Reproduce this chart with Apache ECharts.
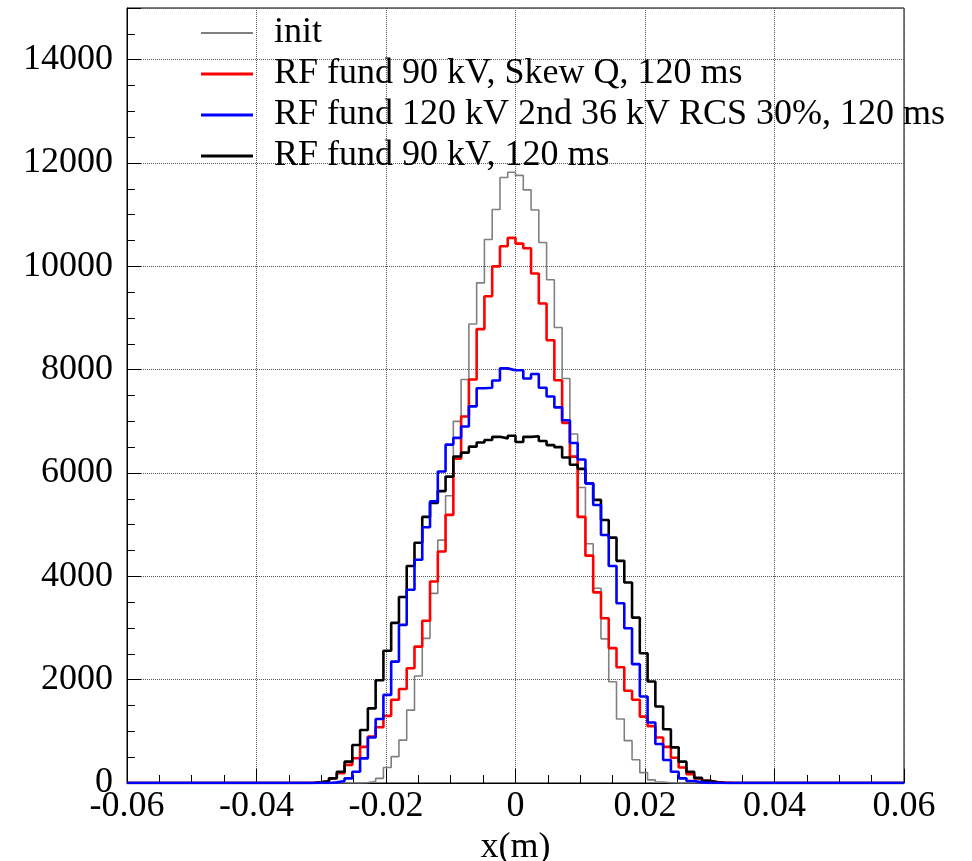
<!DOCTYPE html>
<html>
<head>
<meta charset="utf-8">
<script src="https://cdn.jsdelivr.net/npm/echarts@6/dist/echarts.min.js"></script>
<style>
html,body{margin:0;padding:0;background:#fff;}
#chart{width:972px;height:861px;}
</style>
</head>
<body>
<div id="chart"></div>
<script>
// Histogram: 100 bins from -0.06 to 0.06 (bin width 0.0012).
// Values below are for the 60 bins starting at x = -0.036 (bins outside are empty).
const xMin = -0.06, xMax = 0.06, binWidth = 0.0012, nBins = 100;
const dataStartBin = 20; // bin index of x = -0.036

const seriesNames = [
  'init',
  'RF fund 90 kV, Skew Q, 120 ms',
  'RF fund 120 kV 2nd 36 kV RCS 30%, 120 ms',
  'RF fund 90 kV, 120 ms'
];

const initCounts = [
  0,0,0,0,0,0,0,0,0,0,
  8,30,90,300,510,830,1410,2070,2800,3670,
  4700,5560,7000,7810,8885,9680,10520,11100,11720,11820,
  11760,11480,11090,10460,9740,8815,7830,6755,5720,4630,
  3770,2790,1960,1240,820,450,200,60,20,5,
  0,0,0,0,0,0,0,0,0,0
];
const skewQCounts = [
  0,0,0,5,13,40,90,190,350,480,
  700,900,1080,1300,1610,1820,2220,2640,3140,3900,
  4480,5190,6278,7095,7811,8785,9420,10000,10390,10550,
  10440,10350,9860,9280,8570,7795,6970,6317,5150,4400,
  3690,3190,2610,2240,1785,1610,1285,1100,880,700,
  490,300,170,90,45,20,8,0,0,0
];
const rcsCounts = [
  0,0,0,0,0,0,12,39,90,219,
  477,880,1240,1705,2350,3060,3740,4320,4950,5450,
  6030,6550,6680,6900,7290,7640,7650,7790,8025,7990,
  7990,7830,7915,7650,7480,7270,7020,6580,6260,5800,
  5380,4800,4200,3480,2995,2300,1675,1170,755,445,
  219,90,40,12,0,0,0,0,0,0
];
const fundCounts = [
  0,0,0,0,12,39,90,219,413,735,
  1025,1444,1990,2560,3100,3600,4200,4650,5150,5420,
  5650,5930,6320,6395,6510,6590,6640,6700,6670,6720,
  6600,6700,6710,6620,6540,6500,6300,6160,6080,5800,
  5480,5090,4750,4300,3880,3200,2510,1965,1480,1040,
  690,413,219,100,45,15,0,0,0,0
];

const xTicks = [-0.06, -0.04, -0.02, 0, 0.02, 0.04, 0.06];

function toSteps(counts) {
  const pts = [];
  for (let i = 0; i < nBins; i++) {
    const j = i - dataStartBin;
    const v = (j >= 0 && j < counts.length) ? counts[j] : 0;
    pts.push([xMin + i * binWidth, v]);
  }
  pts.push([xMax, pts[pts.length - 1][1]]);
  return pts;
}

const font = 'Liberation Serif, Times New Roman, serif';
const colors = ['#808080', '#ff0000', '#0000ff', '#000000'];
const widths = [1.6, 2.6, 2.6, 2.6];
const legendH = [2, 3, 3, 3];
const allCounts = [initCounts, skewQCounts, rcsCounts, fundCounts];
const drawOrder = [0, 1, 3, 2];

const chart = echarts.init(document.getElementById('chart'), null, {renderer: 'canvas'});
const series = drawOrder.map(function (idx, z) {
  return {
    name: seriesNames[idx],
    type: 'line',
    step: 'end',
    symbol: 'none',
    animation: false,
    z: 3 + z,
    data: toSteps(allCounts[idx]),
    lineStyle: {color: colors[idx], width: widths[idx]},
    itemStyle: {color: colors[idx]}
  };
});

chart.setOption({
  animation: false,
  backgroundColor: '#fff',
  grid: {
    left: 127, right: 68, top: 8, bottom: 78,
    containLabel: false, outerBoundsMode: 'none',
    show: true, borderColor: '#000', borderWidth: 1, backgroundColor: 'transparent'
  },
  legend: {
    orient: 'vertical',
    left: 196,
    top: 10,
    itemWidth: 52,
    itemHeight: 36,
    itemGap: 5,
    data: seriesNames.map(function (n, i) {
      const h = legendH[i];
      return {
        name: n,
        icon: 'path://M0,' + (18 - h / 2) + 'L52,' + (18 - h / 2) + 'L52,' + (18 + h / 2) + 'L0,' + (18 + h / 2) + 'ZM0,0L0.01,0ZM0,36L0.01,36Z',
        itemStyle: {color: colors[i], borderWidth: 0}
      };
    }),
    textStyle: {fontFamily: font, fontSize: 36, color: '#000', padding: [0, 0, 0, 16]},
    selectedMode: false
  },
  xAxis: {
    type: 'value',
    min: xMin,
    max: xMax,
    interval: 0.02,
    name: 'x(m)',
    nameLocation: 'middle',
    nameGap: 42,
    nameTextStyle: {fontFamily: font, fontSize: 36, color: '#000'},
    axisLine: {show: true, onZero: false, lineStyle: {color: '#000', width: 1}},
    axisTick: {show: true, inside: true, length: 14, lineStyle: {color: '#000'}},
    minorTick: {show: true, splitNumber: 4, length: 8, lineStyle: {color: '#000'}},
    axisLabel: {
      fontFamily: font, fontSize: 36, color: '#000', margin: 6,
      formatter: function (v) {
        const r = Math.round(v * 100) / 100;
        return xTicks.indexOf(r) >= 0 ? String(r) : '';
      }
    },
    splitLine: {show: true, lineStyle: {color: '#555', type: 'dotted', width: 1}}
  },
  yAxis: {
    type: 'value',
    min: 0,
    max: 15000,
    interval: 2000,
    axisLine: {show: true, onZero: false, lineStyle: {color: '#000', width: 1}},
    axisTick: {show: true, inside: true, length: 14, lineStyle: {color: '#000'}},
    minorTick: {show: true, splitNumber: 4, length: 8, lineStyle: {color: '#000'}},
    axisLabel: {
      fontFamily: font, fontSize: 36, color: '#000', margin: 14, showMaxLabel: false,
      formatter: function (v) { return v > 14000 ? '' : String(v); }
    },
    splitLine: {show: true, lineStyle: {color: '#555', type: 'dotted', width: 1}}
  },
  series: series
});
</script>
</body>
</html>
